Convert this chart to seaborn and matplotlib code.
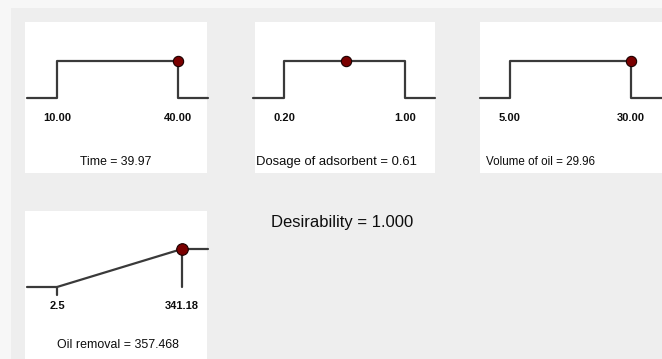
import matplotlib
matplotlib.use("Agg")
import matplotlib.pyplot as plt
import seaborn as sns
import pandas as pd
from matplotlib.patches import Rectangle

sns.set_theme(style="white")
plt.rcParams['font.family'] = ['Liberation Sans', 'DejaVu Sans']

# ---- data ----
factor_names = ["Time", "Dosage of adsorbent", "Volume of oil"]
factor_low = [10.00, 0.20, 5.00]
factor_high = [40.00, 1.00, 30.00]
factor_value = [39.97, 0.61, 29.96]
factor_low_lbl = ["10.00", "0.20", "5.00"]
factor_high_lbl = ["40.00", "1.00", "30.00"]
factor_title_val = ["39.97", "0.61", "29.96"]

resp_name = "Oil removal"
resp_low = 2.5
resp_high = 341.18
resp_value = 357.468
resp_low_lbl = "2.5"
resp_high_lbl = "341.18"
resp_title_val = "357.468"

desirability = 1.000

W, H = 662, 359
fig = plt.figure(figsize=(W / 100, H / 100), dpi=100)
fig.patch.set_facecolor('#f7f7f7')
bg = Rectangle((11 / W, 0), 1, 1 - 8 / H, transform=fig.transFigure,
               facecolor='#eeeeee', edgecolor='none', zorder=-10)
fig.patches.append(bg)

LINE = '#3a3a3a'
DOT = '#7a0000'
TXT = '#0d0d0d'


def make_ax(box, lo_px, hi_px, y0_px, y1_px, lo, hi):
    l, t, r, b = box
    ax = fig.add_axes([l / W, 1 - b / H, (r - l) / W, (b - t) / H])
    ax.set_zorder(1)
    ax.set_facecolor('white')
    s = (hi - lo) / (hi_px - lo_px)
    ax.set_xlim(lo - (lo_px - l) * s, hi + (r - hi_px) * s)
    d = 1.0 / (y0_px - y1_px)
    ax.set_ylim(-(b - y0_px) * d, 1 + (y1_px - t) * d)
    ax.set_xticks([])
    ax.set_yticks([])
    for sp in ax.spines.values():
        sp.set_visible(False)
    return ax, s, d


boxes = [(25, 22, 207, 173), (255, 22, 435, 173), (480, 22, 665, 173)]
lo_pxs = [57, 284, 510]
hi_pxs = [178, 405, 631]
line_l = [27, 253, 480]
line_r = [208, 435, 665]
title_x = [116, 336, 541]
title_fs = [8.8, 9.4, 8.4]

for i in range(3):
    lo, hi = factor_low[i], factor_high[i]
    ax, s, d = make_ax(boxes[i], lo_pxs[i], hi_pxs[i], 98, 61, lo, hi)
    xl = lo - (lo_pxs[i] - line_l[i]) * s
    xr = hi + (line_r[i] - hi_pxs[i]) * s
    df = pd.DataFrame({"x": [xl, lo, lo, hi, hi, xr], "y": [0, 0, 1, 1, 0, 0]})
    sns.lineplot(data=df, x="x", y="y", sort=False, ax=ax, color=LINE, lw=1.6,
                 estimator=None, clip_on=False)
    v = factor_value[i]
    dv = 1.0 if lo <= v <= hi else 0.0
    sns.scatterplot(x=[v], y=[dv], ax=ax, color=DOT, s=55, edgecolor='#1a0000',
                    linewidth=0.8, zorder=5, clip_on=False)
    ax.set_xlabel("")
    ax.set_ylabel("")
    ylab = -(118 - 98) * d
    ax.text(lo, ylab, factor_low_lbl[i], ha='center', va='center', fontsize=8,
            fontweight='bold', color=TXT)
    ax.text(hi, ylab, factor_high_lbl[i], ha='center', va='center', fontsize=8,
            fontweight='bold', color=TXT)
    fig.text(title_x[i] / W, 1 - 162 / H, f"{factor_names[i]} = {factor_title_val[i]}",
             ha='center', va='center', fontsize=title_fs[i], color=TXT, zorder=5)

# response panel
ax, s, d = make_ax((25, 211, 207, 359), 57, 182, 287, 249, resp_low, resp_high)
xl = resp_low - (57 - 27) * s
xr = resp_high + (208 - 182) * s
df = pd.DataFrame({"x": [xl, resp_low, resp_high, xr], "y": [0, 0, 1, 1]})
sns.lineplot(data=df, x="x", y="y", sort=False, ax=ax, color=LINE, lw=1.6,
             estimator=None, clip_on=False)
ax.plot([resp_low, resp_low], [0, -(295 - 287) * d], color=LINE, lw=1.6)
ax.plot([resp_high, resp_high], [0, 1], color=LINE, lw=1.6)
sns.scatterplot(x=[resp_high], y=[1.0], ax=ax, color=DOT, s=70, edgecolor='#1a0000',
                linewidth=0.8, zorder=5, clip_on=False)
ax.set_xlabel("")
ax.set_ylabel("")
ylab = -(306 - 287) * d
ax.text(resp_low, ylab, resp_low_lbl, ha='center', va='center', fontsize=8,
        fontweight='bold', color=TXT)
ax.text(resp_high, ylab, resp_high_lbl, ha='center', va='center', fontsize=8,
        fontweight='bold', color=TXT)
fig.text(118 / W, 1 - 345 / H, f"{resp_name} = {resp_title_val}",
         ha='center', va='center', fontsize=8.9, color=TXT, zorder=5)

fig.text(342 / W, 1 - 222 / H, f"Desirability = {desirability:.3f}",
         ha='center', va='center', fontsize=12, color=TXT, zorder=5)

fig.savefig("out.png", dpi=100, facecolor=fig.get_facecolor())
